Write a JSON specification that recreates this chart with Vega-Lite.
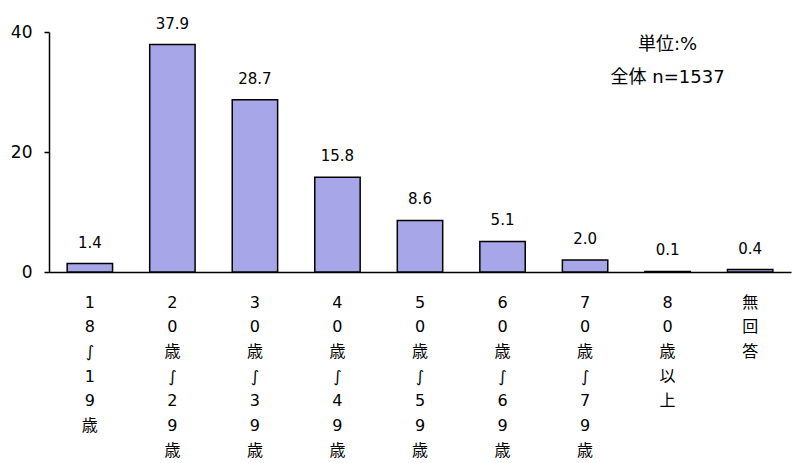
{
  "$schema": "https://vega.github.io/schema/vega-lite/v6.json",
  "autosize": {"type": "none"},
  "width": 742,
  "height": 240,
  "padding": {"left": 49, "top": 32, "right": 1, "bottom": 191},
  "config": {
    "view": {"stroke": null},
    "font": "Noto Sans CJK JP",
    "text": {"font": "Noto Sans CJK JP"}
  },
  "datasets": {
    "bars": [
      {"age": "18～19歳", "pct": 1.4},
      {"age": "20歳～29歳", "pct": 37.9},
      {"age": "30歳～39歳", "pct": 28.7},
      {"age": "40歳～49歳", "pct": 15.8},
      {"age": "50歳～59歳", "pct": 8.6},
      {"age": "60歳～69歳", "pct": 5.1},
      {"age": "70歳～79歳", "pct": 2.0},
      {"age": "80歳以上", "pct": 0.1},
      {"age": "無回答", "pct": 0.4}
    ],
    "notes": [
      {"age": "80歳以上", "pct": 37.8, "note": "単位:%", "bold": true},
      {"age": "80歳以上", "pct": 32.4, "note": "全体 n=1537", "bold": false}
    ]
  },
  "layer": [
    {
      "data": {"name": "bars"},
      "mark": {"type": "bar", "fill": "#a6a6e8", "stroke": "#000000", "strokeWidth": 1.5},
      "encoding": {
        "x": {
          "field": "age", "type": "nominal", "sort": null,
          "scale": {"paddingInner": 0.45, "paddingOuter": 0.22},
          "axis": {
            "title": null, "labelAngle": 0, "ticks": false,
            "domainColor": "#000000", "domainWidth": 1.5,
            "labelExpr": "split(replace(datum.label, '～', '∫'), '')",
            "labelFont": "DejaVu Sans, Noto Sans CJK JP",
            "labelFontSize": 16, "labelColor": "#000000",
            "labelLineHeight": 24.7, "labelPadding": 22, "labelBaseline": "top"
          }
        },
        "y": {
          "field": "pct", "type": "quantitative",
          "scale": {"domain": [0, 40], "nice": false},
          "axis": {
            "title": null, "values": [0, 20, 40], "grid": false,
            "domainColor": "#000000", "domainWidth": 1.5,
            "tickColor": "#000000", "tickWidth": 1.5, "tickSize": 5,
            "labelFontSize": 17, "labelColor": "#000000", "labelPadding": 12,
            "labelFont": "DejaVu Sans"
          }
        }
      }
    },
    {
      "data": {"name": "bars"},
      "mark": {"type": "text", "dy": -13, "baseline": "bottom", "fontSize": 15, "font": "DejaVu Sans", "color": "#000000"},
      "encoding": {
        "x": {"field": "age", "type": "nominal", "sort": null},
        "y": {"field": "pct", "type": "quantitative"},
        "text": {"field": "pct", "type": "quantitative", "format": ".1f"}
      }
    },
    {
      "data": {"name": "notes"},
      "mark": {"type": "text", "dx": 0, "fontSize": 18, "font": "DejaVu Sans, Noto Sans CJK JP", "color": "#000000", "baseline": "middle"},
      "encoding": {
        "x": {"field": "age", "type": "nominal", "sort": null},
        "y": {"field": "pct", "type": "quantitative"},
        "text": {"field": "note"},
        "fontWeight": {"field": "bold", "type": "nominal", "scale": {"domain": [true, false], "range": ["bold", "normal"]}, "legend": null}
      }
    }
  ]
}
